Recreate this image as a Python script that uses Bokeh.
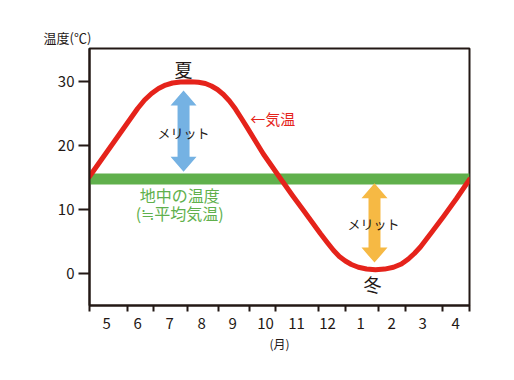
from bokeh.plotting import figure
from bokeh.models import Range1d, FixedTicker
from bokeh.core.properties import value
from bokeh.embed import file_html
from bokeh.resources import INLINE

FONT = "Noto Sans CJK JP"
DARK = "#231815"
RED = "#e5231b"
GREEN = "#60b04c"
BLUE = "#75b2e3"
ORANGE = "#f6b944"

# ---- data ----
months = ["5", "6", "7", "8", "9", "10", "11", "12", "1", "2", "3", "4"]
month_label_pos = [0.54, 1.52, 2.53, 3.54, 4.52, 5.56, 6.54, 7.52, 8.56, 9.54, 10.52, 11.56]
month_bounds = [0, 1.2, 2.02, 3.09, 4.07, 5.05, 5.87, 7.23, 8.08, 9.13, 9.98, 11.15, 12]
y_ticks = [0, 10, 20, 30]

air_x = [0.00, 0.76, 1.52, 1.74, 1.96, 2.18, 2.40, 2.62, 2.87, 3.19, 3.44,
         3.66, 3.85, 4.04, 4.23, 4.42, 4.61, 4.80, 4.99, 5.49, 6.03,
         6.41, 6.76, 7.29, 7.52, 7.71, 7.89, 8.08, 8.27, 8.49, 8.75, 9.03,
         9.32, 9.60, 9.85, 10.07, 10.26, 10.45, 10.80, 11.18, 11.59, 12.00]
air_y = [15.16, 20.47, 25.78, 27.11, 28.13, 28.91, 29.45, 29.77, 29.92, 29.95, 29.88,
         29.69, 29.30, 28.75, 27.97, 26.95, 25.70, 24.22, 22.73, 18.67, 14.84,
         12.19, 9.84, 6.25, 4.77, 3.59, 2.66, 1.95, 1.41, 0.97, 0.70, 0.59,
         0.69, 0.97, 1.48, 2.27, 3.13, 4.14, 6.41, 8.91, 11.72, 14.69]

ground_temp = 14.78

arrow_x = [2.97, 9.00]
arrow_bottom = [15.9, 1.7]
arrow_top = [28.6, 14.1]
arrow_colors = [BLUE, ORANGE]

X0, X1 = 0, 12
Y0, Y1 = -5, 35.16
FW, FH = 380, 257

p = figure(width=506, height=372, frame_width=FW, frame_height=FH,
           x_range=Range1d(X0, X1), y_range=Range1d(Y0, Y1),
           output_backend="svg", toolbar_location=None,
           min_border_left=89, min_border_top=48, min_border_right=37, min_border_bottom=67)
p.background_fill_color = "white"
p.border_fill_color = "white"
p.grid.visible = False
p.outline_line_color = DARK
p.outline_line_width = 2
p.outline_line_alpha = 1

# y-axis title placed top-left via the plot title
p.title.text = "温度(℃)"
p.title.align = "left"
p.title.offset = -46
p.title.standoff = 4
p.title.text_font = FONT
p.title.text_font_size = "13px"
p.title.text_font_style = "normal"
p.title.text_color = DARK

# axes
yax = p.yaxis[0]
yax.ticker = FixedTicker(ticks=y_ticks)
yax.axis_line_color = DARK
yax.axis_line_width = 2
yax.major_tick_line_color = DARK
yax.major_tick_line_width = 2
yax.major_tick_out = 11
yax.major_tick_in = 0
yax.minor_tick_line_color = None
yax.major_label_text_font = FONT
yax.major_label_text_font_size = "15px"
yax.major_label_text_color = DARK
yax.major_label_standoff = 4

xax = p.xaxis[0]
xax.ticker = FixedTicker(ticks=month_label_pos, minor_ticks=month_bounds)
xax.major_label_overrides = {pos: m for pos, m in zip(month_label_pos, months)}
xax.axis_line_color = DARK
xax.axis_line_width = 2
xax.major_tick_line_color = None
xax.major_tick_out = 0
xax.major_tick_in = 0
xax.minor_tick_line_color = DARK
xax.minor_tick_line_width = 2
xax.minor_tick_out = 6
xax.minor_tick_in = 0
xax.major_label_text_font = FONT
xax.major_label_text_font_size = "15px"
xax.major_label_text_color = DARK
xax.major_label_standoff = 6
xax.axis_label = "(月)"
xax.axis_label_text_font = FONT
xax.axis_label_text_font_size = "12px"
xax.axis_label_text_font_style = "normal"
xax.axis_label_text_color = DARK
xax.axis_label_standoff = 3

# ground temperature band
p.line(x=[X0, X1], y=[ground_temp, ground_temp], line_width=11, line_color=GREEN)

# double arrows (computed from arrow data + pixel style sizes)
ux = FW / (X1 - X0)
uy = FH / (Y1 - Y0)
head_hw = 13 / ux
shaft_hw = 6 / ux
head_len = 15 / uy
xs_list, ys_list = [], []
for cx, yb, yt in zip(arrow_x, arrow_bottom, arrow_top):
    xs_list.append([cx, cx + head_hw, cx + shaft_hw, cx + shaft_hw, cx + head_hw, cx,
                    cx - head_hw, cx - shaft_hw, cx - shaft_hw, cx - head_hw])
    ys_list.append([yt, yt - head_len, yt - head_len, yb + head_len, yb + head_len, yb,
                    yb + head_len, yb + head_len, yt - head_len, yt - head_len])
p.patches(xs=xs_list, ys=ys_list, fill_color=arrow_colors, line_color=None)

# air temperature curve
p.line(x=air_x, y=air_y, line_width=5, line_color=RED, line_join="round", line_cap="round")

# texts
p.text(x=[2.97, 8.94], y=[32.0, -1.6], text=["夏", "冬"], text_font=value(FONT),
       text_font_size="18px", text_color=DARK, text_align="center", text_baseline="middle")
p.text(x=[2.97, 8.97], y=[22.0, 7.8], text=["メリット", "メリット"], text_font=value(FONT),
       text_font_size="13px", text_color=DARK, text_align="center", text_baseline="middle")
p.text(x=[5.08], y=[24.2], text=["←気温"], text_font=value(FONT),
       text_font_size="15px", text_color=RED, text_align="left", text_baseline="middle")
p.text(x=[2.85, 2.85], y=[12.3, 9.4], text=["地中の温度", "(≒平均気温)"], text_font=value(FONT),
       text_font_size="16px", text_color=GREEN, text_align="center", text_baseline="middle")

open("out.html", "w").write(file_html(p, INLINE))
